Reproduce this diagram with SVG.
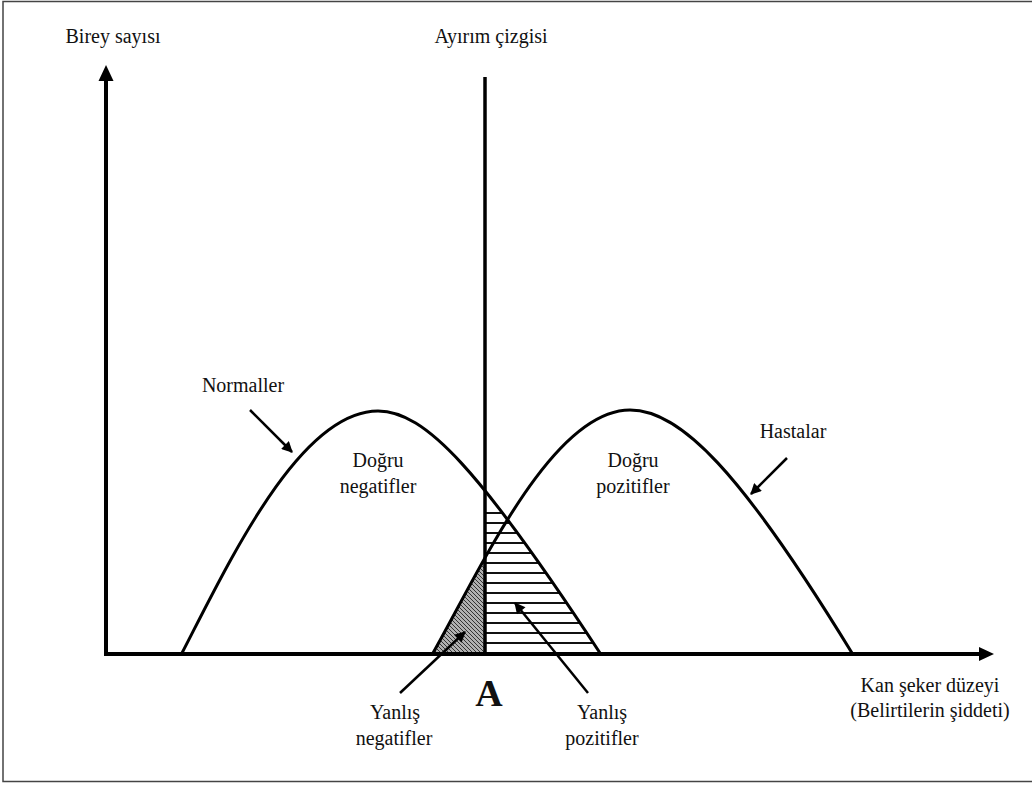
<svg xmlns="http://www.w3.org/2000/svg" width="1032" height="785" viewBox="0 0 1032 785">
<style>
text{font-family:"Liberation Serif","Times New Roman",serif;font-size:20px;fill:#111;text-anchor:middle}
.curve{fill:none;stroke:#000;stroke-width:3}
.axis{stroke:#000;stroke-width:4;fill:none}
.arr{stroke:#000;stroke-width:2.5;fill:none;marker-end:url(#ah)}
.hl{stroke:#111;stroke-width:2}
</style>
<defs>
<marker id="ah" viewBox="0 0 10 10" refX="9" refY="5" markerUnits="userSpaceOnUse" markerWidth="13" markerHeight="11" orient="auto">
<path d="M0,0 L10,5 L0,10 Z" fill="#000"/>
</marker>
<pattern id="diag" patternUnits="userSpaceOnUse" width="4" height="4">
<rect width="4" height="4" fill="#b0b0b0"/>
<path d="M0,0 L4,4 M-1,3 L1,5 M3,-1 L5,1" stroke="#333" stroke-width="1"/>
</pattern>
<clipPath id="underLeft"><path d="M182,653 C230,560 300,411 378,411 C425,411 480,470 600,653 Z"/></clipPath>
<clipPath id="underRight"><path d="M433,653 C480,570 552,410 630,410 C680,410 740,470 852,653 Z"/></clipPath>
<clipPath id="rightOfCut"><rect x="485" y="0" width="200" height="653"/></clipPath>
<clipPath id="leftOfCut"><rect x="400" y="0" width="85" height="653"/></clipPath>
</defs>
<rect x="3" y="1.5" width="1040" height="780" fill="#fff" stroke="#444" stroke-width="1.5"/>

<g id="false-negative-area" clip-path="url(#leftOfCut)">
<rect x="400" y="400" width="200" height="260" fill="url(#diag)" clip-path="url(#underRight)"/>
</g>
<g id="false-positive-area" clip-path="url(#rightOfCut)">
<g clip-path="url(#underLeft)">
<line class="hl" x1="480" y1="513" x2="620" y2="513"/>
<line class="hl" x1="480" y1="523" x2="620" y2="523"/>
<line class="hl" x1="480" y1="533" x2="620" y2="533"/>
<line class="hl" x1="480" y1="543" x2="620" y2="543"/>
<line class="hl" x1="480" y1="553" x2="620" y2="553"/>
<line class="hl" x1="480" y1="563" x2="620" y2="563"/>
<line class="hl" x1="480" y1="573" x2="620" y2="573"/>
<line class="hl" x1="480" y1="583" x2="620" y2="583"/>
<line class="hl" x1="480" y1="593" x2="620" y2="593"/>
<line class="hl" x1="480" y1="603" x2="620" y2="603"/>
<line class="hl" x1="480" y1="613" x2="620" y2="613"/>
<line class="hl" x1="480" y1="623" x2="620" y2="623"/>
<line class="hl" x1="480" y1="633" x2="620" y2="633"/>
<line class="hl" x1="480" y1="643" x2="620" y2="643"/>
</g>
</g>

<g id="normal-curve"><path class="curve" d="M182,653 C230,560 300,411 378,411 C425,411 480,470 600,653"/></g>
<g id="patient-curve"><path class="curve" d="M433,653 C480,570 552,410 630,410 C680,410 740,470 852,653"/></g>

<g id="axes">
<line class="axis" x1="106" y1="78" x2="106" y2="655"/>
<polygon points="106,65 98.5,81 113.5,81" fill="#000"/>
<line class="axis" x1="104" y1="654" x2="982" y2="654"/>
<polygon points="994,654 979,647 979,661" fill="#000"/>
</g>
<g id="cutoff-line"><line x1="485" y1="77" x2="485" y2="655" stroke="#000" stroke-width="3.5"/></g>

<g id="connectors">
<line class="arr" x1="250" y1="410" x2="292" y2="452"/>
<line class="arr" x1="787" y1="458" x2="751" y2="494"/>
<line class="arr" x1="400" y1="693" x2="465" y2="632"/>
<line class="arr" x1="588" y1="693" x2="515" y2="603"/>
</g>

<g id="y-label"><text x="113" y="43">Birey sayısı</text></g>
<g id="cutoff-label"><text x="491" y="43">Ayırım çizgisi</text></g>
<g id="normaller"><text x="243" y="392">Normaller</text></g>
<g id="dogru-negatifler"><text x="378" y="467">Doğru</text><text x="378" y="493">negatifler</text></g>
<g id="dogru-pozitifler"><text x="633" y="467">Doğru</text><text x="633" y="493">pozitifler</text></g>
<g id="hastalar"><text x="793" y="438">Hastalar</text></g>
<g id="x-label"><text x="930" y="692">Kan şeker düzeyi</text><text x="930" y="717">(Belirtilerin şiddeti)</text></g>
<g id="point-a"><text x="489" y="706" style="font-size:38px;font-weight:bold">A</text></g>
<g id="yanlis-negatifler"><text x="395" y="719">Yanlış</text><text x="394" y="745">negatifler</text></g>
<g id="yanlis-pozitifler"><text x="602" y="719">Yanlış</text><text x="602" y="745">pozitifler</text></g>
</svg>
